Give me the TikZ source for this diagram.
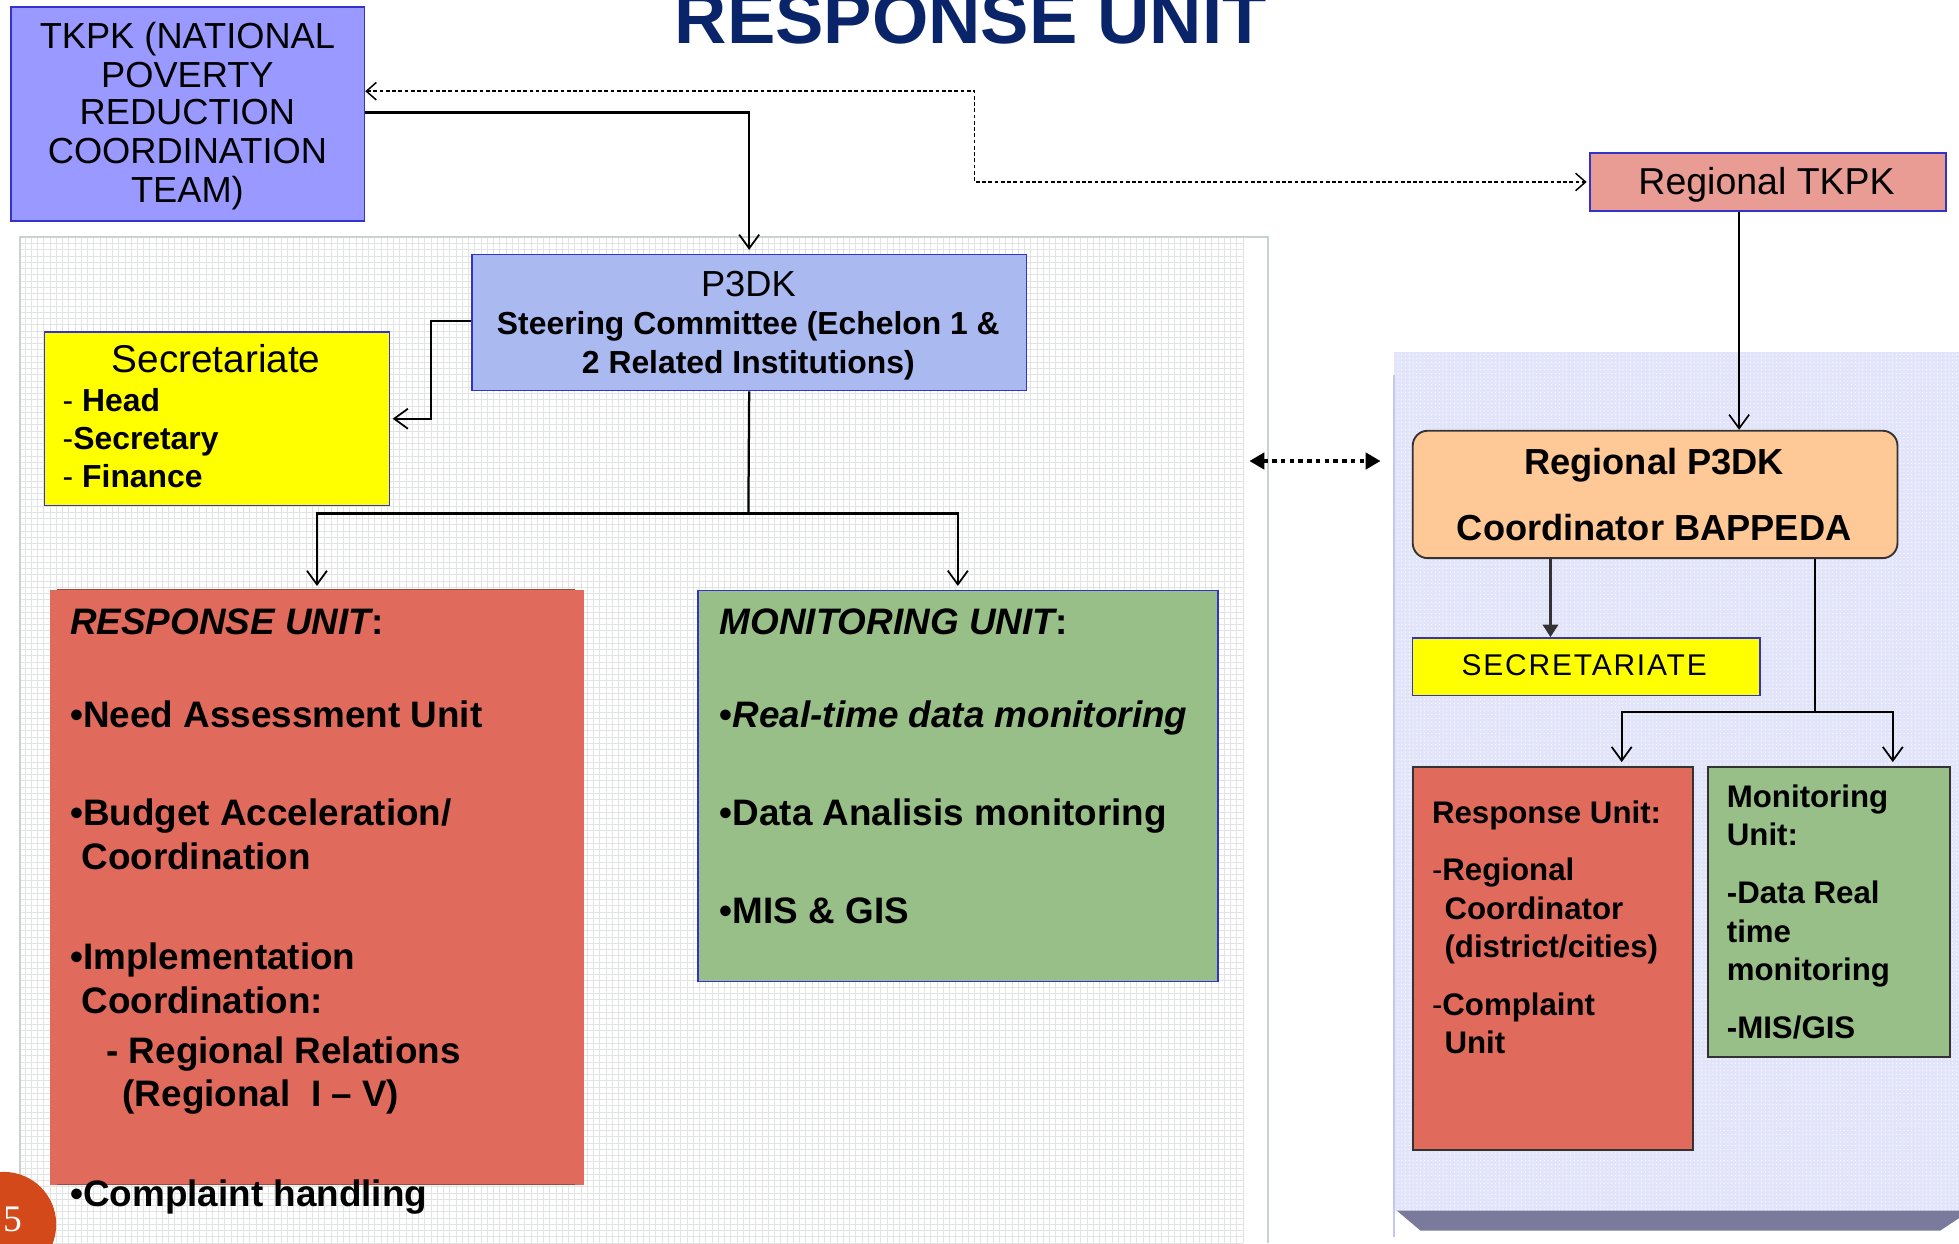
\documentclass[tikz,border=0pt]{standalone}
\usepackage{fontspec}
\setmainfont{Liberation Sans}
\newfontfamily\numserif{Liberation Serif}
\newfontfamily\spacedfont{Liberation Sans}[LetterSpace=6]
\usetikzlibrary{arrows.meta,patterns}
\definecolor{tkpkfill}{HTML}{9999FF}
\definecolor{boxblue}{HTML}{3333CC}
\definecolor{p3dkfill}{HTML}{AAB9F0}
\definecolor{yel}{HTML}{FFFF00}
\definecolor{coral}{HTML}{E06B5D}
\definecolor{grn}{HTML}{99BF88}
\definecolor{salmon}{HTML}{E99C93}
\definecolor{peach}{HTML}{FFC897}
\definecolor{navy}{HTML}{0A2469}
\definecolor{circ}{HTML}{D4491A}
\definecolor{gridc}{HTML}{E2E4E4}
\definecolor{panelb}{HTML}{C8D2D2}
\definecolor{lav}{HTML}{E2E4FA}
\definecolor{lavedge}{HTML}{C5C8EE}
\definecolor{bevel}{HTML}{7A7A9C}
\definecolor{darkg}{HTML}{333333}
\newcommand{\myfs}[1]{\fontsize{#1}{#1}\selectfont}
\begin{document}
\begin{tikzpicture}[x=1pt,y=-1pt,
  box/.style={draw=boxblue,line width=1.3pt,anchor=north west,inner sep=0pt},
  rbox/.style={draw=darkg,line width=1.5pt,anchor=north west,inner sep=0pt},
  txt/.style={inner sep=0pt,text=black},
  conn/.style={line width=1.8pt,-{Straight Barb[length=11pt,width=16pt,line width=1.4pt]}},
  plain/.style={line width=1.8pt},
  dasharrow/.style={line width=1.2pt,dash pattern=on 3pt off 2pt,{Straight Barb[length=8pt,width=14pt,line width=1.2pt]}-{Straight Barb[length=8pt,width=14pt,line width=1.2pt]}},
  dotarrow/.style={line width=3.5pt,dash pattern=on 3.5pt off 3.5pt,{Triangle[length=12pt,width=13pt]}-{Triangle[length=12pt,width=13pt]}},
  thickarrow/.style={draw=darkg,line width=3pt,-{Triangle[length=10pt,width=12pt]}}
]
\useasboundingbox (0,0) rectangle (1568,995);
\fill[white] (0,0) rectangle (1568,995);

% left panel background with grid
\fill[white] (16,190) rectangle (1015,995);
\draw[gridc,line width=0.7pt,step=5pt] (16,190) grid (995,995);
\draw[panelb,line width=1.5pt] (16,995) -- (16,190) -- (1015,190) -- (1015,995);

% right panel
\fill[lav] (1116,282) rectangle (1568,969);
\fill[pattern=dots,pattern color=white] (1116,282) rectangle (1568,969);
\draw[lavedge,line width=1.5pt] (1116,300) -- (1116,990);
\fill[bevel] (1118,969) -- (1568,969) -- (1568,975) -- (1553,985) -- (1137,985) -- cycle;

% title
\node[txt,anchor=base,text=navy] (title) at (777,35) {\myfs{58}\bfseries RESPONSE UNIT};

% boxes
\node[box,fill=tkpkfill,minimum width=283,minimum height=171] (tkpk) at (8,5) {};
\node[txt,anchor=base] (tk1) at (150,39) {\myfs{29}TKPK (NATIONAL};
\node[txt,anchor=base] (tk2) at (150,70) {\myfs{29}POVERTY};
\node[txt,anchor=base] (tk3) at (150,100) {\myfs{29}REDUCTION};
\node[txt,anchor=base] (tk4) at (150,131) {\myfs{29}COORDINATION};
\node[txt,anchor=base] (tk5) at (150,162) {\myfs{29}TEAM)};

\node[box,fill=salmon,minimum width=285,minimum height=46] (rtkpk) at (1272,122) {};
\node[txt,anchor=base] (rt1) at (1414,156) {\myfs{30}Regional TKPK};

\node[box,fill=p3dkfill,minimum width=444,minimum height=109] (p3dk) at (377,203) {};
\node[txt,anchor=base] (p1) at (599,237) {\myfs{29}P3DK};
\node[txt,anchor=base] (p2) at (599,268) {\myfs{25.5}\bfseries Steering Committee (Echelon 1 \&};
\node[txt,anchor=base] (p3) at (599,299) {\myfs{25.5}\bfseries 2 Related Institutions)};

\node[box,fill=yel,minimum width=276,minimum height=139] (sec) at (35,265) {};
\node[txt,anchor=base] (s1) at (173,298) {\myfs{31}Secretariate};
\node[txt,anchor=base west] (s2) at (50,329) {\myfs{25.5}- \bfseries Head};
\node[txt,anchor=base west] (s3) at (50,360) {\myfs{25.5}-\bfseries Secretary};
\node[txt,anchor=base west] (s4) at (50,390) {\myfs{25.5}- \bfseries Finance};

\node[anchor=north west,inner sep=0pt,fill=coral,minimum width=427,minimum height=476] (ru) at (40,472) {};
\draw[coral!70!black,line width=0.8pt] (46,472) -- (460,472) (46,948) -- (460,948);
\node[txt,anchor=base west] (ru1) at (56,508) {\myfs{29.5}\bfseries\itshape RESPONSE UNIT\upshape:};
\node[txt,anchor=base west] (ru2) at (56,582) {\myfs{29.5}\bfseries •Need Assessment Unit};
\node[txt,anchor=base west] (ru3) at (56,661) {\myfs{29.5}\bfseries •Budget Acceleration/};
\node[txt,anchor=base west] (ru4) at (65,696) {\myfs{29.5}\bfseries Coordination};
\node[txt,anchor=base west] (ru5) at (56,776) {\myfs{29.5}\bfseries •Implementation};
\node[txt,anchor=base west] (ru6) at (65,811) {\myfs{29.5}\bfseries Coordination:};
\node[txt,anchor=base west] (ru7) at (85,851) {\myfs{29.5}\bfseries - Regional Relations};
\node[txt,anchor=base west] (ru8) at (98,886) {\myfs{29.5}\bfseries (Regional\ \ I – V)};
\node[txt,anchor=base west] (ru9) at (56,966) {\myfs{29.5}\bfseries •Complaint handling};

\node[box,fill=grn,minimum width=416,minimum height=313] (mu) at (558,472) {};
\node[txt,anchor=base west] (mu1) at (576,508) {\myfs{29.5}\bfseries\itshape MONITORING UNIT\upshape:};
\node[txt,anchor=base west] (mu2) at (576,582) {\myfs{29.5}\bfseries •\itshape Real-time data monitoring};
\node[txt,anchor=base west] (mu3) at (576,661) {\myfs{29.5}\bfseries •Data Analisis monitoring};
\node[txt,anchor=base west] (mu4) at (576,739) {\myfs{29.5}\bfseries •MIS \& GIS};

% right side boxes
\node[rbox,fill=peach,rounded corners=12pt,minimum width=388,minimum height=102] (rp3dk) at (1130,344) {};
\node[txt,anchor=base] (rp1) at (1324,380) {\myfs{29}\bfseries Regional P3DK};
\node[txt,anchor=base] (rp2) at (1324,433) {\myfs{29}\bfseries Coordinator BAPPEDA};

\node[box,fill=yel,minimum width=278,minimum height=46] (rsec) at (1130,510) {};
\node[txt,anchor=base] (rs1) at (1268,541) {\spacedfont\myfs{24}SECRETARIATE};

\node[rbox,fill=coral,minimum width=224,minimum height=307] (rru) at (1130,613) {};
\node[txt,anchor=base west] (rr1) at (1146,659) {\myfs{25}\bfseries Response Unit:};
\node[txt,anchor=base west] (rr2) at (1146,705) {\myfs{25}-\bfseries Regional};
\node[txt,anchor=base west] (rr3) at (1156,736) {\myfs{25}\bfseries Coordinator};
\node[txt,anchor=base west] (rr4) at (1156,766) {\myfs{25}\bfseries (district/cities)};
\node[txt,anchor=base west] (rr5) at (1146,813) {\myfs{25}-\bfseries Complaint};
\node[txt,anchor=base west] (rr6) at (1156,843) {\myfs{25}\bfseries Unit};

\node[rbox,fill=grn,minimum width=194,minimum height=232] (rmu) at (1366,613) {};
\node[txt,anchor=base west] (rm1) at (1382,646) {\myfs{25}\bfseries Monitoring};
\node[txt,anchor=base west] (rm2) at (1382,677) {\myfs{25}\bfseries Unit:};
\node[txt,anchor=base west] (rm3) at (1382,723) {\myfs{25}\bfseries -Data Real};
\node[txt,anchor=base west] (rm4) at (1382,754) {\myfs{25}\bfseries time};
\node[txt,anchor=base west] (rm5) at (1382,785) {\myfs{25}\bfseries monitoring};
\node[txt,anchor=base west] (rm6) at (1382,831) {\myfs{25}\bfseries -MIS/GIS};

% page number circle
\node[circle,fill=circ,minimum size=84pt,inner sep=0pt] (pg) at (3,980) {};
\node[txt,text=white] (pgn) at (10,976) {\numserif\myfs{30}5};

% connector coordinates
\coordinate (d1) at (780,73);
\coordinate (j1) at (599,90);
\coordinate (j2) at (345,257);
\coordinate (t1) at (599,411);
\coordinate (rx) at (1392,0);
\coordinate (da) at (1000,369);
\coordinate (db) at (1105,369);
\coordinate (cx) at (1241,0);
\coordinate (t2) at (1453,570);
\coordinate (lx) at (1298,0);
\coordinate (mx) at (1515,0);

% connectors
\draw[dasharrow] (tkpk.east |- d1) -- (d1) -- (d1 |- rtkpk.west) -- ([xshift=-2pt]rtkpk.west);
\draw[conn,shorten >=3pt] (tkpk.east |- j1) -| (p3dk.north);
\draw[conn,shorten >=2pt] (p3dk.west |- j2) -- (j2) |- (sec.east);
\draw[plain] (p3dk.south) -- (t1);
\draw[conn,shorten >=3pt] (t1) -| (ru.north);
\draw[conn,shorten >=3pt] (t1) -| (mu.north);
\draw[line width=1.4pt,-{Straight Barb[length=11pt,width=16pt,line width=1.3pt]}] (rtkpk.south -| rx) -- (rp3dk.north -| rx);
\draw[dotarrow] (da) -- (db);
\draw[thickarrow] (rp3dk.south -| cx) -- (rsec.north -| cx);
\draw[plain] (rp3dk.south -| t2) -- (t2);
\draw[conn,shorten >=3pt] (t2) -| (rru.north -| lx);
\draw[conn,shorten >=3pt] (t2) -| (rmu.north -| mx);
\end{tikzpicture}
\end{document}
